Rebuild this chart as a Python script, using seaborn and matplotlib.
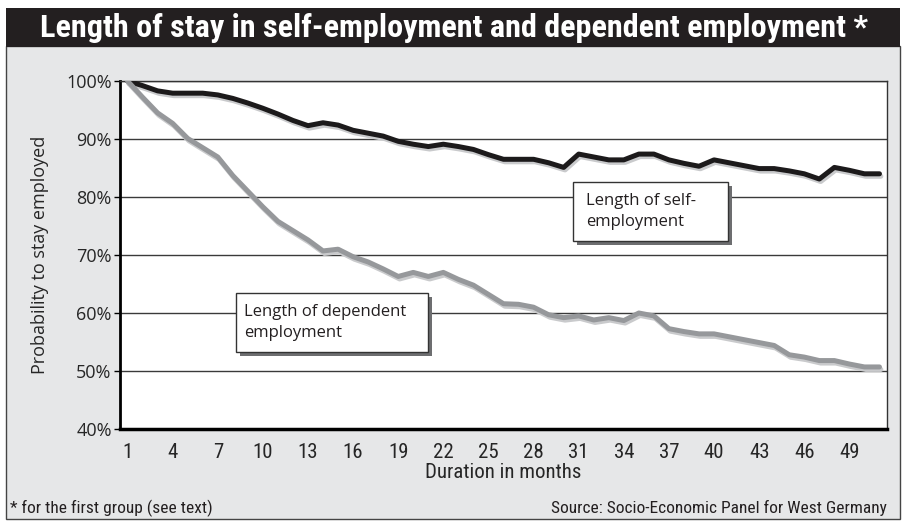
import numpy as np
import pandas as pd
import matplotlib
matplotlib.use("Agg")
import matplotlib.pyplot as plt
import matplotlib.patheffects as pe
from matplotlib.patches import Rectangle
from matplotlib import font_manager as fm
import seaborn as sns

# values (percent still employed)
months = list(range(1, 52))
self_emp = [100, 99.2, 98.3, 97.9, 97.9, 97.9, 97.6, 97.0, 96.2, 95.3,
            94.3, 93.2, 92.3, 92.8, 92.4, 91.5, 91.0, 90.5, 89.6, 89.1,
            88.7, 89.1, 88.7, 88.2, 87.3, 86.5, 86.5, 86.5, 85.9, 85.1,
            87.4, 86.9, 86.4, 86.4, 87.4, 87.4, 86.4, 85.8, 85.3, 86.4,
            85.9, 85.4, 84.9, 84.9, 84.5, 84.0, 83.1, 85.1, 84.6, 84.0, 84.0]
dep_emp = [100, 97.2, 94.5, 92.7, 90.1, 88.5, 86.9, 83.7, 81.0, 78.3,
           75.8, 74.2, 72.6, 70.7, 71.0, 69.7, 68.8, 67.6, 66.3, 67.0,
           66.3, 67.0, 65.8, 64.8, 63.2, 61.6, 61.5, 61.0, 59.7, 59.2,
           59.5, 58.8, 59.2, 58.7, 60.0, 59.5, 57.3, 56.8, 56.4, 56.4,
           55.9, 55.4, 54.9, 54.4, 52.8, 52.4, 51.8, 51.8, 51.2, 50.7, 50.7]
tick_months = list(range(1, 50, 3))
y_ticks = [40, 50, 60, 70, 80, 90, 100]
y_labels = [f"{v}%" for v in y_ticks]

df = pd.DataFrame({
    "month": months * 2,
    "value": self_emp + dep_emp,
    "series": ["self"] * len(months) + ["dep"] * len(months),
})

sns.set_style("white")
names = {f.name for f in fm.fontManager.ttflist}
regular = "Open Sans" if "Open Sans" in names else "DejaVu Sans"
plt.rcParams["font.family"] = [regular, "DejaVu Sans"]

cond = None
for n in ["Roboto Condensed", "Open Sans Condensed", "Liberation Sans Narrow", "DejaVu Sans Condensed"]:
    if n in names:
        cond = dict(family=n)
        break
if cond is None:
    if any(f.name == "DejaVu Sans" and f.stretch == "condensed" for f in fm.fontManager.ttflist):
        cond = dict(family="DejaVu Sans", stretch="condensed")
    else:
        cond = dict(family=regular)

W, H = 906, 522
fig = plt.figure(figsize=(W / 100, H / 100), dpi=100)
fig.patch.set_facecolor("white")

# grey panel and black title bar (behind the axes)
fig.patches.append(Rectangle((6 / W, 1 - 519 / H), 894 / W, (519 - 46) / H,
                             transform=fig.transFigure, facecolor="#e6e7e8",
                             edgecolor="#444444", lw=1, zorder=-2))
fig.patches.append(Rectangle((6 / W, 1 - 47 / H), 894 / W, 39 / H,
                             transform=fig.transFigure, facecolor="#231f20",
                             edgecolor="none", zorder=-1))

ax = fig.add_axes([120 / W, 1 - 429 / H, 767 / W, 348 / H])
ax.set_facecolor("white")
sns.lineplot(data=df, x="month", y="value", hue="series",
             palette={"self": "#1c1a1b", "dep": "#96989b"},
             linewidth=3.6, legend=False, ax=ax, zorder=3)
for line in ax.lines:
    line.set_solid_joinstyle("round")
    line.set_path_effects([pe.SimpleLineShadow(offset=(1, -1.8), shadow_color="#c9cacc", alpha=1),
                           pe.Normal()])

ax.set_xlim(0.5, len(months) + 0.5)
ax.set_ylim(40, 100)
ax.set_xticks(tick_months)
ax.set_xticklabels([str(m) for m in tick_months], fontsize=15, **cond)
ax.set_xticks(np.arange(1.5, len(months), 1), minor=True)
ax.tick_params(axis="x", which="major", length=0, pad=10)
ax.tick_params(axis="x", which="minor", direction="inout", length=8, width=1, color="black")
ax.set_yticks(y_ticks)
ax.set_yticklabels(y_labels, fontsize=13)
ax.tick_params(axis="y", length=4, width=1, direction="out", color="black", pad=2, left=True)

ax.yaxis.grid(True, color="#3a3a3a", lw=1)
ax.xaxis.grid(False)
ax.set_axisbelow(True)
for s in ["top", "right"]:
    ax.spines[s].set_color("#333333")
    ax.spines[s].set_linewidth(1)
ax.spines["left"].set_color("black")
ax.spines["left"].set_linewidth(2)
ax.spines["bottom"].set_color("black")
ax.spines["bottom"].set_linewidth(2.5)

ax.set_xlabel("Duration in months", fontsize=15, labelpad=1, **cond)
ax.set_ylabel("Probability to stay employed", fontsize=13, labelpad=12)

# label boxes with drop shadow
def label_box(x0, y0, w, h, tx, text):
    ax.add_patch(Rectangle((x0 + 0.005, y0 - 0.011), w, h, transform=ax.transAxes,
                           facecolor="#6d6e70", edgecolor="none", zorder=4))
    ax.add_patch(Rectangle((x0, y0), w, h, transform=ax.transAxes,
                           facecolor="white", edgecolor="#333333", lw=1, zorder=5))
    ax.text(tx, y0 + h / 2, text, transform=ax.transAxes, ha="left", va="center",
            fontsize=12, linespacing=1.45, color="#231f20", zorder=6)

label_box(0.5906, 0.5402, 0.2021, 0.1695, 0.6076, "Length of self-\nemployment")
label_box(0.1512, 0.2213, 0.2503, 0.1695, 0.1617, "Length of dependent\nemployment")

# title fitted to the bar width
title = fig.text(454 / W, 1 - 28 / H, "Length of stay in self-employment and dependent employment *",
                 color="white", fontweight="bold", fontsize=22, ha="center", va="center", **cond)
fig.canvas.draw()
tw = title.get_window_extent().width
title.set_fontsize(22 * 830 / tw)

fig.text(10 / W, 1 - 508 / H, "* for the first group (see text)", fontsize=12.5,
         ha="left", va="center", color="#231f20", **cond)
fig.text(887 / W, 1 - 508 / H, "Source: Socio-Economic Panel for West Germany", fontsize=12.5,
         ha="right", va="center", color="#231f20", **cond)

fig.savefig("out.png", dpi=100)
